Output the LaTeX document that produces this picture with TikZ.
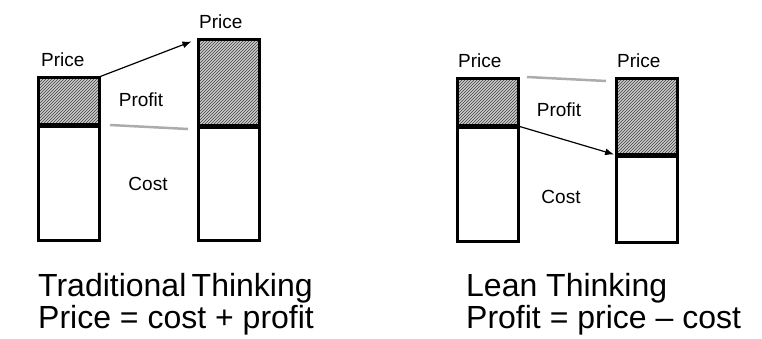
\documentclass[tikz,border=0pt]{standalone}
\usepackage{fontspec}
\setmainfont{Liberation Sans}
\usetikzlibrary{positioning, calc, arrows.meta, patterns}
\tikzstyle{Profit} = [draw, line width=3pt, inner sep=0pt, outer sep=0pt,
minimum width=61pt, anchor=north west,
preaction={fill=gray!40},
pattern=north east lines, pattern color=gray!50!black]
\tikzstyle{Cost} = [draw, line width=3pt, inner sep=0pt, outer sep=0pt,
minimum width=61pt, fill=white]
\tikzstyle{Split} = [line width=5pt]
\tikzstyle{Arrow} = [line width=1.2pt, -{Latex[length=9pt, width=7pt]}]
\tikzstyle{Level} = [line width=2.5pt, gray!65]
\tikzstyle{Label} = [inner sep=0pt, font=\fontsize{19}{19}\selectfont]
\tikzstyle{Caption} = [inner sep=0pt, anchor=base west, font=\fontsize{32}{32}\selectfont]

\begin{document}
\begin{tikzpicture}[x=1pt, y=-1pt]
    \useasboundingbox (0,0) rectangle (762,338);
    % traditional: cost fixed, price goes up
    \node [Profit, minimum height=48pt] (p1) at (38,77) {};
    \node [Cost, minimum height=115pt, below=0pt of p1] (c1) {};
    \node [Profit, minimum height=87pt] (p2) at (198,39) {};
    \node [Cost, minimum height=114pt, below=0pt of p2] (c2) {};
    \draw[Split] (p1.south west) -- (p1.south east);
    \draw[Split] (p2.south west) -- (p2.south east);
    \node [Label, above right=10pt and 3pt of p1.north west] (pr1) {Price};
    \node [Label, above right=10pt and 1pt of p2.north west] (pr2) {Price};
    \node [Label, anchor=base] (pf1) at (141,106) {Profit};
    \node [Label, anchor=base] (co1) at (148,190) {Cost};
    \coordinate (g1) at (110,125);
    \coordinate (g2) at (188,129);
    \draw[Level] (g1) -- (g2);
    \draw[Arrow, shorten >=7pt] (p1.north east) -- (p2.north west);
    % lean: price fixed, cost goes down
    \node [Profit, minimum height=48pt] (p3) at (457,78) {};
    \node [Cost, minimum height=115pt, below=0pt of p3] (c3) {};
    \node [Profit, minimum height=77pt] (p4) at (616,78) {};
    \node [Cost, minimum height=87pt, below=0pt of p4] (c4) {};
    \draw[Split] (p3.south west) -- (p3.south east);
    \draw[Split] (p4.south west) -- (p4.south east);
    \node [Label, above right=10pt and 1pt of p3.north west] (pr3) {Price};
    \node [Label, above right=10pt and 1pt of p4.north west] (pr4) {Price};
    \node [Label, anchor=base] (pf2) at (559,116) {Profit};
    \node [Label, anchor=base] (co2) at (561,203) {Cost};
    \coordinate (g3) at (527,77);
    \coordinate (g4) at (606,81);
    \draw[Level] (g3) -- (g4);
    \draw[Arrow, shorten >=2pt] (c3.north east) -- (c4.north west);
    % captions
    \node [Caption] (trad) at (38,296) {Traditional\,Thinking};
    \node [Caption, below=32pt of trad.base west, anchor=base west] (tradeq) {Price = cost + profit};
    \node [Caption] (lean) at (466,296) {Lean Thinking};
    \node [Caption, below=32pt of lean.base west, anchor=base west] (leaneq) {Profit = price – cost};
\end{tikzpicture}
\end{document}
